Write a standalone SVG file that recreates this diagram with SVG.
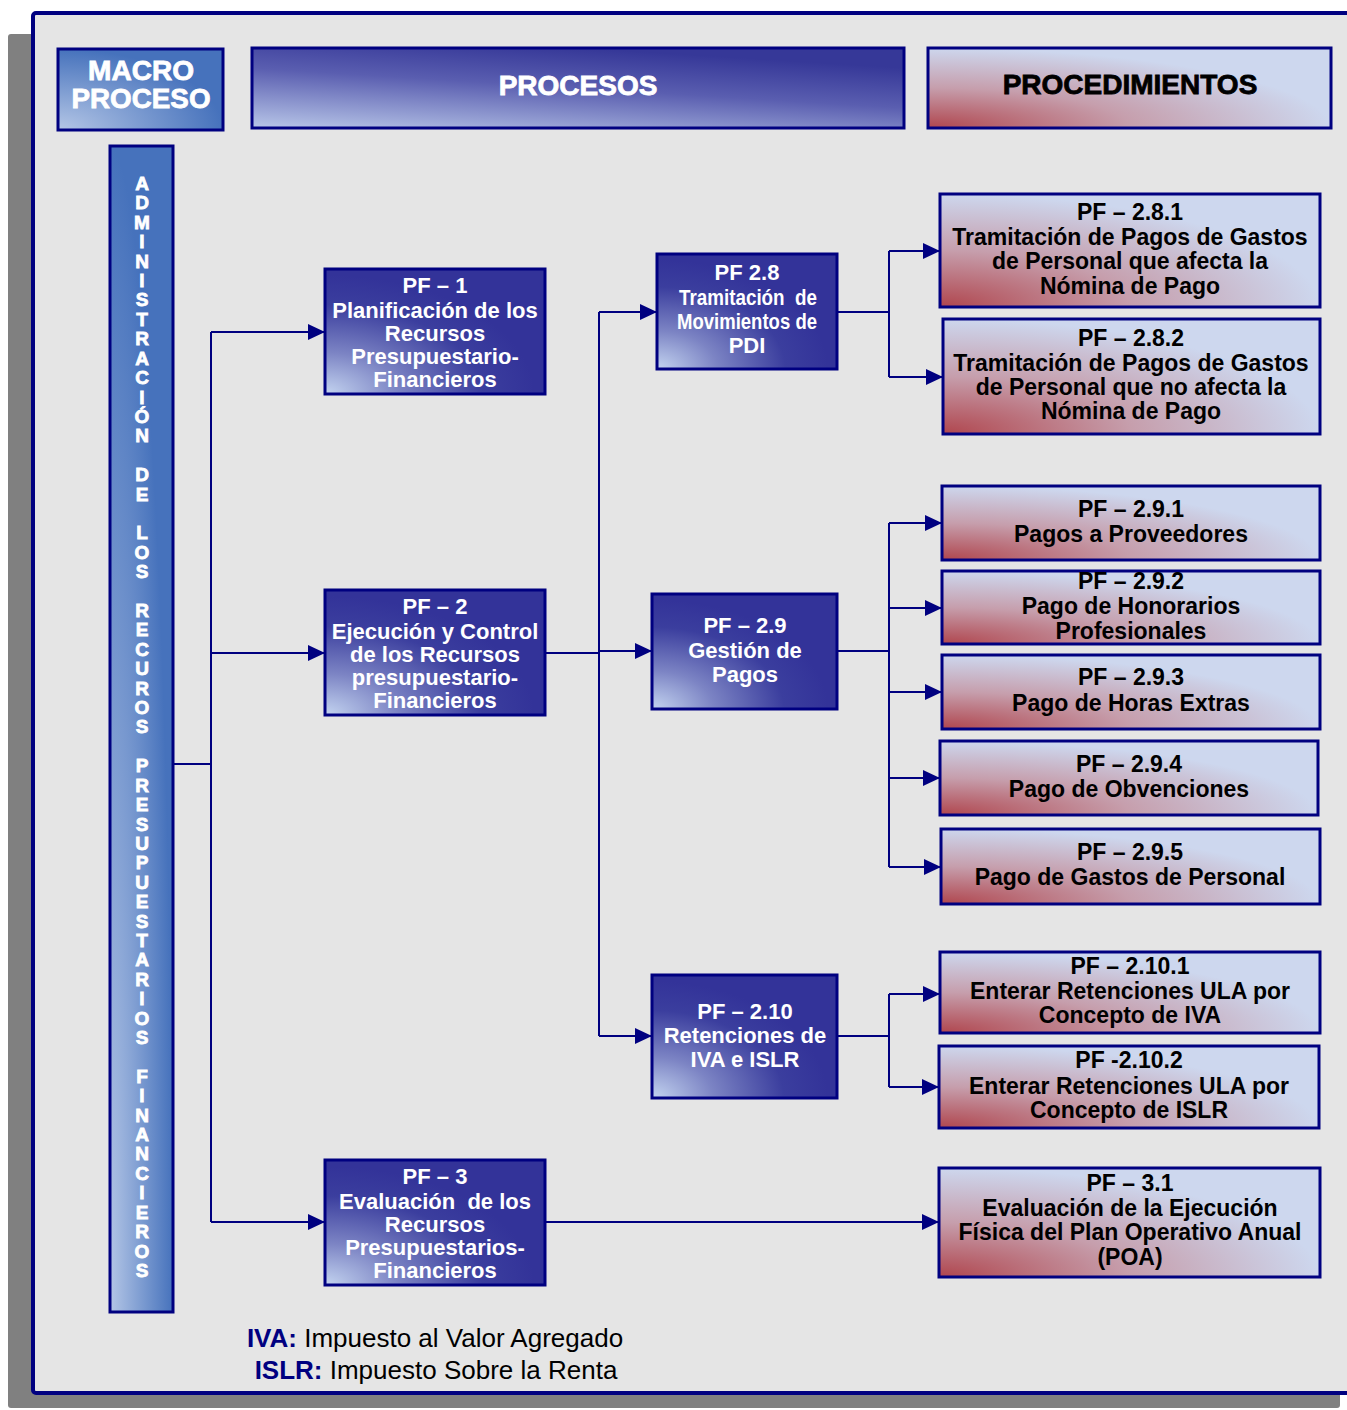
<svg xmlns="http://www.w3.org/2000/svg" width="1347" height="1410" viewBox="0 0 1347 1410">
<defs>
<radialGradient id="gProc" cx="0" cy="1" r="0.95" fx="0" fy="1">
<stop offset="0" stop-color="#c4d4f0"/>
<stop offset="0.35" stop-color="#7c84c4"/>
<stop offset="0.75" stop-color="#3b3e9e"/>
<stop offset="1" stop-color="#333399"/>
</radialGradient>
<radialGradient id="gPcd" cx="0" cy="1" r="1" fx="0" fy="1">
<stop offset="0" stop-color="#b0464e"/>
<stop offset="0.5" stop-color="#c69eac"/>
<stop offset="1" stop-color="#cdd7ee"/>
</radialGradient>
<radialGradient id="gBlue" cx="0" cy="1" r="1" fx="0" fy="1">
<stop offset="0" stop-color="#b4c6e6"/>
<stop offset="1" stop-color="#4672bc"/>
</radialGradient>
<linearGradient id="gHead" x1="0" y1="1" x2="0.5" y2="0">
<stop offset="0" stop-color="#b8c6e8"/>
<stop offset="0.6" stop-color="#5a5eb0"/>
<stop offset="1" stop-color="#363898"/>
</linearGradient>
<marker id="arr" markerUnits="userSpaceOnUse" markerWidth="18" markerHeight="16" refX="17" refY="8" orient="auto">
<path d="M0,0 L17,8 L0,16 Z" fill="#000080"/>
</marker>
</defs>
<style>
.box{stroke:#000080;stroke-width:3}
.proc{fill:url(#gProc)}
.pcd{fill:url(#gPcd)}
.wt{font-family:"Liberation Sans",Arial,sans-serif;font-weight:bold;font-size:22px;fill:#ffffff;text-anchor:middle}
.bt{font-family:"Liberation Sans",Arial,sans-serif;font-weight:bold;font-size:23px;fill:#000000;text-anchor:middle}
.hd{font-family:"Liberation Sans",Arial,sans-serif;font-weight:bold;font-size:28px;text-anchor:middle;stroke-width:0.8}
.vt{font-family:"Liberation Sans",Arial,sans-serif;font-weight:bold;font-size:19px;fill:#ffffff;text-anchor:middle;stroke:#ffffff;stroke-width:0.8}
.cn{fill:none;stroke:#000080;stroke-width:2}
.lg{font-family:"Liberation Sans",Arial,sans-serif;font-size:26px;text-anchor:middle;fill:#000000}
</style>
<rect x="8" y="34" width="1332" height="1374" rx="3" fill="#808080"/>
<rect x="33" y="13" width="1320" height="1380" rx="3" fill="#e5e5e5" stroke="#000080" stroke-width="4"/>

<g id="hdr-macro">
<rect class="box" x="58" y="49" width="165" height="81" fill="url(#gBlue)"/>
<text class="hd" x="141" y="80" fill="#ffffff" stroke="#ffffff" font-size="22" textLength="106" lengthAdjust="spacingAndGlyphs">MACRO</text>
<text class="hd" x="141" y="108" fill="#ffffff" stroke="#ffffff" font-size="22" textLength="139" lengthAdjust="spacingAndGlyphs">PROCESO</text>
</g>
<g id="hdr-procesos">
<rect class="box" x="252" y="48" width="652" height="80" fill="url(#gHead)"/>
<text class="hd" x="578" y="95" fill="#ffffff" stroke="#ffffff" font-size="27">PROCESOS</text>
</g>
<g id="hdr-procedimientos">
<rect class="box" x="928" y="48" width="403" height="80" fill="url(#gPcd)"/>
<text class="hd" x="1130" y="94" fill="#000000" stroke="#000000">PROCEDIMIENTOS</text>
</g>

<g id="macro">
<rect class="box" x="110" y="146" width="63" height="1166" fill="url(#gBlue)"/>
<text class="vt"><tspan x="142" y="190">A</tspan><tspan x="142" dy="19.41">D</tspan><tspan x="142" dy="19.41">M</tspan><tspan x="142" dy="19.41">I</tspan><tspan x="142" dy="19.41">N</tspan><tspan x="142" dy="19.41">I</tspan><tspan x="142" dy="19.41">S</tspan><tspan x="142" dy="19.41">T</tspan><tspan x="142" dy="19.41">R</tspan><tspan x="142" dy="19.41">A</tspan><tspan x="142" dy="19.41">C</tspan><tspan x="142" dy="19.41">I</tspan><tspan x="142" dy="19.41">Ó</tspan><tspan x="142" dy="19.41">N</tspan><tspan x="142" dy="38.82">D</tspan><tspan x="142" dy="19.41">E</tspan><tspan x="142" dy="38.82">L</tspan><tspan x="142" dy="19.41">O</tspan><tspan x="142" dy="19.41">S</tspan><tspan x="142" dy="38.82">R</tspan><tspan x="142" dy="19.41">E</tspan><tspan x="142" dy="19.41">C</tspan><tspan x="142" dy="19.41">U</tspan><tspan x="142" dy="19.41">R</tspan><tspan x="142" dy="19.41">O</tspan><tspan x="142" dy="19.41">S</tspan><tspan x="142" dy="38.82">P</tspan><tspan x="142" dy="19.41">R</tspan><tspan x="142" dy="19.41">E</tspan><tspan x="142" dy="19.41">S</tspan><tspan x="142" dy="19.41">U</tspan><tspan x="142" dy="19.41">P</tspan><tspan x="142" dy="19.41">U</tspan><tspan x="142" dy="19.41">E</tspan><tspan x="142" dy="19.41">S</tspan><tspan x="142" dy="19.41">T</tspan><tspan x="142" dy="19.41">A</tspan><tspan x="142" dy="19.41">R</tspan><tspan x="142" dy="19.41">I</tspan><tspan x="142" dy="19.41">O</tspan><tspan x="142" dy="19.41">S</tspan><tspan x="142" dy="38.82">F</tspan><tspan x="142" dy="19.41">I</tspan><tspan x="142" dy="19.41">N</tspan><tspan x="142" dy="19.41">A</tspan><tspan x="142" dy="19.41">N</tspan><tspan x="142" dy="19.41">C</tspan><tspan x="142" dy="19.41">I</tspan><tspan x="142" dy="19.41">E</tspan><tspan x="142" dy="19.41">R</tspan><tspan x="142" dy="19.41">O</tspan><tspan x="142" dy="19.41">S</tspan></text>
</g>

<g id="connectors">
<polyline class="cn" points="173,764 211,764"/>
<polyline class="cn" points="211,332 211,1222"/>
<polyline class="cn" points="211,332 325,332" marker-end="url(#arr)"/>
<polyline class="cn" points="211,653 325,653" marker-end="url(#arr)"/>
<polyline class="cn" points="211,1222 325,1222" marker-end="url(#arr)"/>
<polyline class="cn" points="545,653 599,653"/>
<polyline class="cn" points="599,312 599,1036"/>
<polyline class="cn" points="599,312 657,312" marker-end="url(#arr)"/>
<polyline class="cn" points="599,651 652,651" marker-end="url(#arr)"/>
<polyline class="cn" points="599,1036 652,1036" marker-end="url(#arr)"/>
<polyline class="cn" points="837,312 889,312"/>
<polyline class="cn" points="889,251 889,377"/>
<polyline class="cn" points="889,251 940,251" marker-end="url(#arr)"/>
<polyline class="cn" points="889,377 943,377" marker-end="url(#arr)"/>
<polyline class="cn" points="837,651 889,651"/>
<polyline class="cn" points="889,523 889,867"/>
<polyline class="cn" points="889,523 942,523" marker-end="url(#arr)"/>
<polyline class="cn" points="889,608 942,608" marker-end="url(#arr)"/>
<polyline class="cn" points="889,692 942,692" marker-end="url(#arr)"/>
<polyline class="cn" points="889,778 940,778" marker-end="url(#arr)"/>
<polyline class="cn" points="889,867 941,867" marker-end="url(#arr)"/>
<polyline class="cn" points="837,1036 889,1036"/>
<polyline class="cn" points="889,994 889,1087"/>
<polyline class="cn" points="889,994 940,994" marker-end="url(#arr)"/>
<polyline class="cn" points="889,1087 939,1087" marker-end="url(#arr)"/>
<polyline class="cn" points="545,1222 939,1222" marker-end="url(#arr)"/>
</g>

<g id="pf1">
<rect class="box proc" x="325" y="269" width="220" height="125"/>
<text class="wt" x="435" y="292.5">PF – 1</text>
<text class="wt" x="435" y="317.5">Planificación de los</text>
<text class="wt" x="435" y="340.5">Recursos</text>
<text class="wt" x="435" y="363.5">Presupuestario-</text>
<text class="wt" x="435" y="386.5">Financieros</text>
</g>
<g id="pf2">
<rect class="box proc" x="325" y="590" width="220" height="125"/>
<text class="wt" x="435" y="613.5">PF – 2</text>
<text class="wt" x="435" y="638.5">Ejecución y Control</text>
<text class="wt" x="435" y="661.5">de los Recursos</text>
<text class="wt" x="435" y="684.5">presupuestario-</text>
<text class="wt" x="435" y="707.5">Financieros</text>
</g>
<g id="pf3">
<rect class="box proc" x="325" y="1160" width="220" height="125"/>
<text class="wt" x="435" y="1183.5">PF – 3</text>
<text class="wt" x="435" y="1208.5" xml:space="preserve">Evaluación  de los</text>
<text class="wt" x="435" y="1231.5">Recursos</text>
<text class="wt" x="435" y="1254.5">Presupuestarios-</text>
<text class="wt" x="435" y="1277.5">Financieros</text>
</g>
<g id="pf28">
<rect class="box proc" x="657" y="254" width="180" height="115"/>
<text class="wt" x="747" y="280">PF 2.8</text>
<text class="wt" x="748" y="305" xml:space="preserve" textLength="138" lengthAdjust="spacingAndGlyphs">Tramitación  de</text>
<text class="wt" x="747" y="329" textLength="140" lengthAdjust="spacingAndGlyphs">Movimientos de</text>
<text class="wt" x="747" y="353">PDI</text>
</g>
<g id="pf29">
<rect class="box proc" x="652" y="594" width="185" height="115"/>
<text class="wt" x="745" y="633">PF – 2.9</text>
<text class="wt" x="745" y="658">Gestión de</text>
<text class="wt" x="745" y="682">Pagos</text>
</g>
<g id="pf210">
<rect class="box proc" x="652" y="975" width="185" height="123"/>
<text class="wt" x="745" y="1019">PF – 2.10</text>
<text class="wt" x="745" y="1043">Retenciones de</text>
<text class="wt" x="745" y="1067">IVA e ISLR</text>
</g>

<g id="pf281">
<rect class="box pcd" x="940" y="194" width="380" height="113"/>
<text class="bt" x="1130" y="220">PF – 2.8.1</text>
<text class="bt" x="1130" y="245">Tramitación de Pagos de Gastos</text>
<text class="bt" x="1130" y="269">de Personal que afecta la</text>
<text class="bt" x="1130" y="294">Nómina de Pago</text>
</g>
<g id="pf282">
<rect class="box pcd" x="943" y="319" width="377" height="115"/>
<text class="bt" x="1131" y="346">PF – 2.8.2</text>
<text class="bt" x="1131" y="371">Tramitación de Pagos de Gastos</text>
<text class="bt" x="1131" y="395">de Personal que no afecta la</text>
<text class="bt" x="1131" y="419">Nómina de Pago</text>
</g>
<g id="pf291">
<rect class="box pcd" x="942" y="486" width="378" height="74"/>
<text class="bt" x="1131" y="517">PF – 2.9.1</text>
<text class="bt" x="1131" y="542">Pagos a Proveedores</text>
</g>
<g id="pf292">
<rect class="box pcd" x="942" y="571" width="378" height="73"/>
<text class="bt" x="1131" y="589">PF – 2.9.2</text>
<text class="bt" x="1131" y="614">Pago de Honorarios</text>
<text class="bt" x="1131" y="639">Profesionales</text>
</g>
<g id="pf293">
<rect class="box pcd" x="942" y="655" width="378" height="74"/>
<text class="bt" x="1131" y="685">PF – 2.9.3</text>
<text class="bt" x="1131" y="711">Pago de Horas Extras</text>
</g>
<g id="pf294">
<rect class="box pcd" x="940" y="741" width="378" height="74"/>
<text class="bt" x="1129" y="772">PF – 2.9.4</text>
<text class="bt" x="1129" y="797">Pago de Obvenciones</text>
</g>
<g id="pf295">
<rect class="box pcd" x="941" y="829" width="379" height="75"/>
<text class="bt" x="1130" y="860">PF – 2.9.5</text>
<text class="bt" x="1130" y="885">Pago de Gastos de Personal</text>
</g>
<g id="pf2101">
<rect class="box pcd" x="940" y="952" width="380" height="81"/>
<text class="bt" x="1130" y="974">PF – 2.10.1</text>
<text class="bt" x="1130" y="999">Enterar Retenciones ULA por</text>
<text class="bt" x="1130" y="1023">Concepto de IVA</text>
</g>
<g id="pf2102">
<rect class="box pcd" x="939" y="1046" width="380" height="82"/>
<text class="bt" x="1129" y="1068">PF -2.10.2</text>
<text class="bt" x="1129" y="1094">Enterar Retenciones ULA por</text>
<text class="bt" x="1129" y="1118">Concepto de ISLR</text>
</g>
<g id="pf31">
<rect class="box pcd" x="939" y="1168" width="381" height="109"/>
<text class="bt" x="1130" y="1191">PF – 3.1</text>
<text class="bt" x="1130" y="1216">Evaluación de la Ejecución</text>
<text class="bt" x="1130" y="1240">Física del Plan Operativo Anual</text>
<text class="bt" x="1130" y="1265">(POA)</text>
</g>

<g id="legend">
<text class="lg" x="435" y="1347"><tspan fill="#000080" font-weight="bold">IVA:</tspan> Impuesto al Valor Agregado</text>
<text class="lg" x="436" y="1379"><tspan fill="#000080" font-weight="bold">ISLR:</tspan> Impuesto Sobre la Renta</text>
</g>
</svg>
